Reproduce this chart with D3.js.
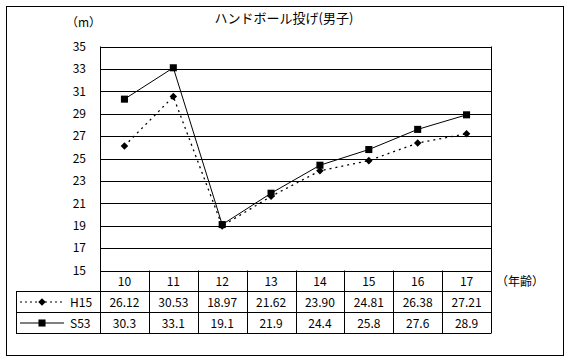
<!DOCTYPE html>
<html>
<head>
<meta charset="utf-8">
<script src="https://cdn.jsdelivr.net/npm/d3@7"></script>
<style>
  body { margin: 0; background: #fff; }
  text { font-family: "Noto Sans CJK JP", "DejaVu Sans", sans-serif; fill: #000; }
</style>
</head>
<body>
<div id="chart"></div>
<script>
const ages = ['10', '11', '12', '13', '14', '15', '16', '17'];
const h15 = [26.12, 30.53, 18.97, 21.62, 23.90, 24.81, 26.38, 27.21];
const h15Labels = ['26.12', '30.53', '18.97', '21.62', '23.90', '24.81', '26.38', '27.21'];
const s53 = [30.3, 33.1, 19.1, 21.9, 24.4, 25.8, 27.6, 28.9];
const s53Labels = ['30.3', '33.1', '19.1', '21.9', '24.4', '25.8', '27.6', '28.9'];
const yTicks = [15, 17, 19, 21, 23, 25, 27, 29, 31, 33, 35];

const width = 572, height = 362;
const plotLeft = 100, plotRight = 491, plotTop = 46.5, plotBottom = 270.5;
const rowH = 21;

let svg = d3.select('#chart').append('svg')
  .attr('width', width)
  .attr('height', height);

// outer frame
svg.append('rect')
  .attr('x', 6.5).attr('y', 6.5)
  .attr('width', 557).attr('height', 349)
  .attr('fill', 'none').attr('stroke', '#000');

let x = d3.scaleBand().domain(ages).range([plotLeft, plotRight]);
let y = d3.scaleLinear().domain([15, 35]).range([plotBottom, plotTop]);

// gridlines
svg.append('g').selectAll('line')
  .data(yTicks)
  .enter().append('line')
  .attr('x1', plotLeft).attr('x2', plotRight)
  .attr('y1', d => Math.round(y(d)) + 0.5)
  .attr('y2', d => Math.round(y(d)) + 0.5)
  .attr('stroke', '#000');

// plot frame sides
svg.append('line').attr('x1', plotLeft + 0.5).attr('x2', plotLeft + 0.5)
  .attr('y1', plotTop).attr('y2', plotBottom + rowH).attr('stroke', '#000');
svg.append('line').attr('x1', plotRight + 0.5).attr('x2', plotRight + 0.5)
  .attr('y1', plotTop).attr('y2', plotBottom + rowH * 3).attr('stroke', '#000');

// y axis labels
let yAxis = d3.axisLeft(y).tickValues(yTicks).tickSize(0).tickPadding(14);
let gy = svg.append('g').attr('transform', `translate(${plotLeft},0)`).call(yAxis);
gy.select('.domain').remove();
gy.selectAll('text').style('font-size', '12px');

// title and units
svg.append('text').attr('x', 284).attr('y', 23)
  .attr('text-anchor', 'middle').style('font-size', '13px')
  .text('ハンドボール投げ(男子)');
svg.append('text').attr('x', 66).attr('y', 27)
  .style('font-size', '12px').text('（m）');
svg.append('text').attr('x', 496).attr('y', 286)
  .style('font-size', '12px').text('（年齢）');

// data table
let t0 = plotBottom, t1 = plotBottom + rowH, t2 = plotBottom + rowH * 2, t3 = plotBottom + rowH * 3;
let tbl = svg.append('g').attr('stroke', '#000');
tbl.append('line').attr('x1', 16).attr('x2', plotRight).attr('y1', t1).attr('y2', t1);
tbl.append('line').attr('x1', 16).attr('x2', plotRight).attr('y1', t2).attr('y2', t2);
tbl.append('line').attr('x1', 16).attr('x2', plotRight).attr('y1', t3).attr('y2', t3);
tbl.append('line').attr('x1', 16.5).attr('x2', 16.5).attr('y1', t1).attr('y2', t3);
tbl.append('line').attr('x1', plotLeft + 0.5).attr('x2', plotLeft + 0.5).attr('y1', t1).attr('y2', t3);
tbl.selectAll('.col').data(ages.slice(1))
  .enter().append('line')
  .attr('x1', d => Math.round(x(d)) + 0.5)
  .attr('x2', d => Math.round(x(d)) + 0.5)
  .attr('y1', t0).attr('y2', t3);

let cx = d => x(d) + x.bandwidth() / 2;

svg.append('g').selectAll('text').data(ages)
  .enter().append('text')
  .attr('x', d => cx(d)).attr('y', t0 + 15)
  .attr('text-anchor', 'middle').style('font-size', '12px')
  .text(d => d);
svg.append('g').selectAll('text').data(h15Labels)
  .enter().append('text')
  .attr('x', (d, i) => cx(ages[i])).attr('y', t1 + 15)
  .attr('text-anchor', 'middle').style('font-size', '12px')
  .text(d => d);
svg.append('g').selectAll('text').data(s53Labels)
  .enter().append('text')
  .attr('x', (d, i) => cx(ages[i])).attr('y', t2 + 15)
  .attr('text-anchor', 'middle').style('font-size', '12px')
  .text(d => d);

// legend keys in table
let diamond = d3.symbol().type(d3.symbolDiamond2).size(36);
let square = d3.symbol().type(d3.symbolSquare).size(50);

svg.append('line').attr('x1', 20).attr('x2', 64)
  .attr('y1', t1 + 10.5).attr('y2', t1 + 10.5)
  .attr('stroke', '#000').attr('stroke-dasharray', '2,3');
svg.append('path').attr('d', diamond)
  .attr('transform', `translate(42,${t1 + 10.5})`);
svg.append('text').attr('x', 70).attr('y', t1 + 15)
  .style('font-size', '12px').text('H15');

svg.append('line').attr('x1', 20).attr('x2', 64)
  .attr('y1', t2 + 10.5).attr('y2', t2 + 10.5)
  .attr('stroke', '#000');
svg.append('path').attr('d', square)
  .attr('transform', `translate(42,${t2 + 10.5})`);
svg.append('text').attr('x', 70).attr('y', t2 + 15)
  .style('font-size', '12px').text('S53');

// series lines
let line = d3.line()
  .x((d, i) => cx(ages[i]))
  .y(d => y(d));

svg.append('path').datum(h15)
  .attr('d', line)
  .attr('fill', 'none').attr('stroke', '#000')
  .attr('stroke-width', 1.3)
  .attr('stroke-dasharray', '2,4');
svg.append('path').datum(s53)
  .attr('d', line)
  .attr('fill', 'none').attr('stroke', '#000');

svg.append('g').selectAll('path').data(h15)
  .enter().append('path')
  .attr('d', diamond)
  .attr('transform', (d, i) => `translate(${cx(ages[i])},${y(d)})`);
svg.append('g').selectAll('path').data(s53)
  .enter().append('path')
  .attr('d', square)
  .attr('transform', (d, i) => `translate(${cx(ages[i])},${y(d)})`);
</script>
</body>
</html>
